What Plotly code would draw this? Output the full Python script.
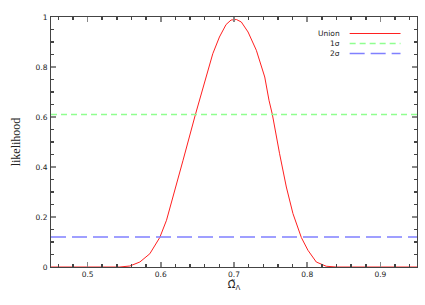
import plotly.graph_objects as go

omega = [0.45, 0.50, 0.544, 0.5577, 0.5714, 0.585, 0.5986, 0.6078, 0.6168, 0.6304,
         0.6473, 0.6596, 0.6710, 0.6801, 0.6892, 0.696, 0.7033, 0.710, 0.7192, 0.7305,
         0.742, 0.7478, 0.7524, 0.7623, 0.7715, 0.7805, 0.792, 0.801, 0.8124, 0.826,
         0.84, 0.95]
likelihood = [0.0, 0.0, 0.0, 0.004, 0.020, 0.053, 0.118, 0.187, 0.280, 0.427,
              0.610, 0.740, 0.853, 0.920, 0.970, 0.988, 0.990, 0.980, 0.940, 0.867,
              0.760, 0.667, 0.610, 0.453, 0.320, 0.214, 0.118, 0.067, 0.020, 0.003,
              0.0, 0.0]
series_names = ["Union", "1σ", "2σ"]
sigma_levels = [0.61, 0.12]
x_range = [0.45, 0.95]
x_ticks = [0.5, 0.6, 0.7, 0.8, 0.9]
x_ticklabels = ["0.5", "0.6", "0.7", "0.8", "0.9"]
y_ticks = [0, 0.2, 0.4, 0.6, 0.8, 1]
y_ticklabels = ["0", "0.2", "0.4", "0.6", "0.8", "1"]

RED = "#ff2020"
GREEN = "#90ff90"
BLUE = "#8080ff"
colors = [RED, GREEN, BLUE]
dashes = ["solid", "6px,4px", "15px,6px"]
widths = [1.1, 1.3, 1.3]

fig = go.Figure()
fig.add_trace(go.Scatter(x=omega, y=likelihood, mode="lines", name=series_names[0],
                         line=dict(color=RED, width=1), hoverinfo="skip"))
for k in range(2):
    fig.add_trace(go.Scatter(x=x_range, y=[sigma_levels[k]] * 2, mode="lines", name=series_names[k + 1],
                             line=dict(color=colors[k + 1], width=widths[k + 1], dash=dashes[k + 1]),
                             hoverinfo="skip"))

# manual legend on an overlay axis (text right-aligned, sample line to the right)
y0 = 0.934
dy = 0.04
for i, name in enumerate(series_names):
    yy = y0 - i * dy
    fig.add_annotation(xref="paper", yref="paper", x=0.795, y=yy, text=name, showarrow=False,
                       xanchor="right", yanchor="middle",
                       font=dict(family="DejaVu Sans, Arial", size=7.5, color="#222"))
    fig.add_trace(go.Scatter(x=[0.816, 0.955], y=[yy, yy], xaxis="x2", yaxis="y2", mode="lines",
                             line=dict(color=colors[i], width=widths[i], dash=dashes[i]),
                             hoverinfo="skip", showlegend=False))

axis_common = dict(showline=True, linecolor="#444", linewidth=1, mirror="ticks",
                   ticks="inside", ticklen=5, tickcolor="#888", tickwidth=1.5,
                   showgrid=False, zeroline=False, automargin=False,
                   tickfont=dict(family="DejaVu Sans, Arial", size=7.5, color="#222"))

xaxis = dict(range=x_range, tickvals=x_ticks, ticktext=x_ticklabels,
             minor=dict(dtick=0.02, tick0=0.44, ticks="inside", ticklen=3, tickcolor="#444"),
             title=dict(text="Ω\u0303<sub>Λ</sub>", standoff=2,
                        font=dict(family="DejaVu Sans", size=10, color="#222")),
             **axis_common)
yaxis = dict(range=[0, 1], tickvals=y_ticks, ticktext=y_ticklabels,
             minor=dict(dtick=0.05, ticks="inside", ticklen=3, tickcolor="#444"),
             ticklabelstandoff=1,
             title=dict(text="likelihood", standoff=12,
                        font=dict(family="Liberation Serif, Times New Roman", size=12, color="#222")),
             **axis_common)

fig.update_layout(width=425, height=305, margin=dict(l=51, r=8, t=17, b=38),
                  paper_bgcolor="white", plot_bgcolor="white", showlegend=False,
                  xaxis=xaxis, yaxis=yaxis,
                  xaxis2=dict(overlaying="x", range=[0, 1], visible=False, anchor="y2", fixedrange=True),
                  yaxis2=dict(overlaying="y", range=[0, 1], visible=False, anchor="x2", fixedrange=True))

fig.write_html("out.html", post_script="document.body.style.margin='0';",
               config={"displayModeBar": False, "staticPlot": True})
